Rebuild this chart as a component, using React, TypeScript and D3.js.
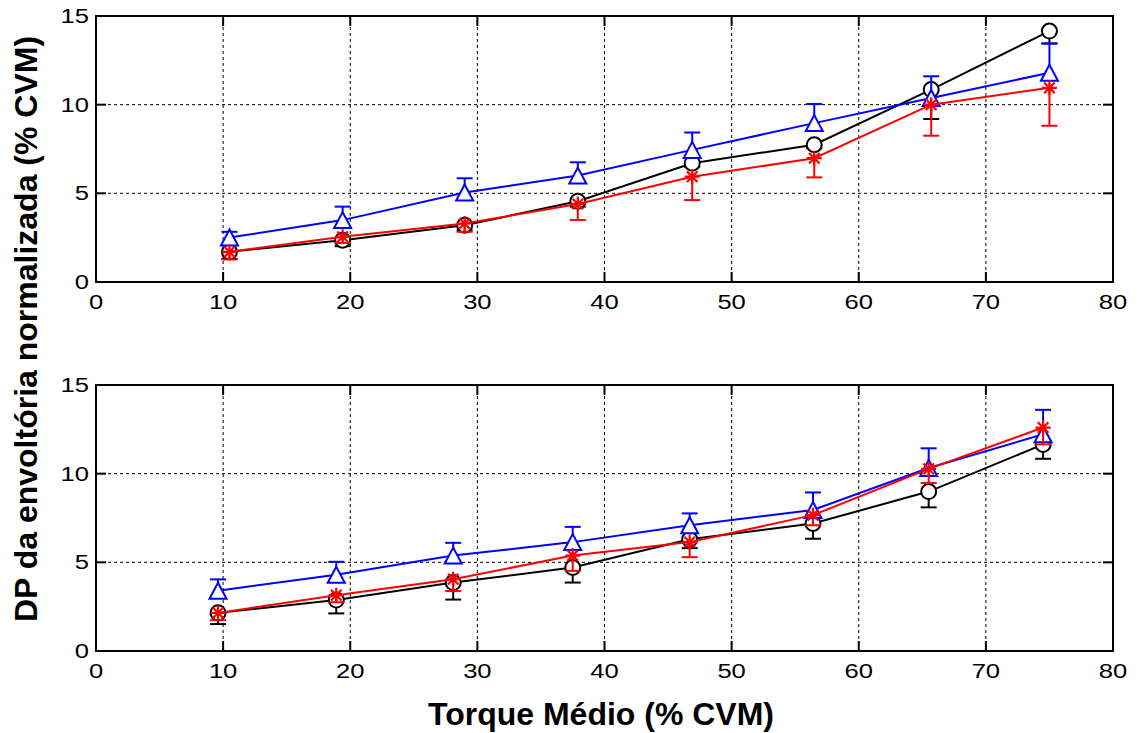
import React from "react";
import * as d3 from "d3";

// Axis ticks
const xTicks = [0, 10, 20, 30, 40, 50, 60, 70, 80];
const yTicks = [0, 5, 10, 15];
const xGrid = [10, 20, 30, 40, 50, 60, 70];
const yGrid = [5, 10];

// Upper panel
const topX = [10.5, 19.4, 29.0, 37.9, 46.9, 56.5, 65.7, 75.0];
const topBlack = [1.7, 2.36, 3.2, 4.55, 6.7, 7.74, 10.85, 14.15];
const topBlackErr = [0.4, 0.34, 0.3, 0.3, 0.2, 0.2, 1.66, 0.7];
const topBlue = [2.51, 3.49, 5.05, 6.0, 7.45, 8.96, 10.38, 11.8];
const topBlueErr = [0.32, 0.76, 0.8, 0.75, 0.98, 1.08, 1.22, 1.65];
const topRed = [1.7, 2.55, 3.3, 4.4, 5.94, 6.98, 10.0, 10.95];
const topRedErr = [0.43, 0.35, 0.47, 0.9, 1.32, 1.08, 1.75, 2.14];

// Lower panel
const botX = [9.6, 18.9, 28.1, 37.5, 46.7, 56.4, 65.5, 74.5];
const botBlack = [2.15, 2.87, 3.86, 4.71, 6.3, 7.19, 8.99, 11.65];
const botBlackErr = [0.63, 0.75, 0.96, 0.85, 0.5, 0.86, 0.89, 0.81];
const botBlue = [3.4, 4.3, 5.38, 6.14, 7.09, 7.95, 10.32, 12.22];
const botBlueErr = [0.64, 0.73, 0.72, 0.86, 0.67, 0.99, 1.11, 1.38];
const botRed = [2.15, 3.15, 4.05, 5.38, 6.14, 7.66, 10.27, 12.6];
const botRedErr = [0.41, 0.4, 0.67, 0.86, 0.85, 0.57, 0.8, 0.95];

type Series = {
  y: number[];
  err: number[];
  dir: 1 | -1; // 1 = bar drawn upward, -1 = downward
  color: string;
  marker: "circle" | "triangle" | "star";
};

const FONT = "'Liberation Sans', Arial, Helvetica, sans-serif";
const LEFT = 96;
const RIGHT = 1113;
const PANEL_H = 266;

function Marker({ kind, x, y, color }: { kind: string; x: number; y: number; color: string }) {
  if (kind === "circle") {
    return <circle cx={x} cy={y} r={7.5} fill="white" stroke={color} strokeWidth={2} />;
  }
  if (kind === "triangle") {
    const h = 8;
    return (
      <path
        d={`M${x},${y - h}L${x + 8.5},${y + h}L${x - 8.5},${y + h}Z`}
        fill="white"
        stroke={color}
        strokeWidth={2}
        strokeLinejoin="miter"
      />
    );
  }
  const r = 7.5;
  const d = r * Math.SQRT1_2;
  return (
    <path
      d={`M${x - r},${y}H${x + r}M${x},${y - r}V${y + r}M${x - d},${y - d}L${x + d},${y + d}M${x - d},${y + d}L${x + d},${y - d}`}
      stroke={color}
      strokeWidth={2.2}
      fill="none"
    />
  );
}

function Panel({ top, xs, series }: { top: number; xs: number[]; series: Series[] }) {
  const x = d3.scaleLinear().domain([0, 80]).range([LEFT, RIGHT]);
  const y = d3.scaleLinear().domain([0, 15]).range([top + PANEL_H, top]);
  const line = d3
    .line<number>()
    .x((_, i) => x(xs[i]))
    .y((v) => y(v));
  const tickLen = 10;
  const cap = 8;

  return (
    <g>
      {/* grid */}
      {xGrid.map((t) => (
        <line key={"gx" + t} x1={x(t)} x2={x(t)} y1={y(0)} y2={y(15)} stroke="#000" strokeWidth={1} strokeDasharray="3,3" />
      ))}
      {yGrid.map((t) => (
        <line key={"gy" + t} x1={x(0)} x2={x(80)} y1={y(t)} y2={y(t)} stroke="#000" strokeWidth={1} strokeDasharray="3,3" />
      ))}

      {/* series */}
      {series.map((s, si) => (
        <g key={si}>
          {s.y.map((v, i) => {
            const px = x(xs[i]);
            const end = y(v + s.dir * s.err[i]);
            return (
              <g key={i} stroke={s.color} strokeWidth={2}>
                <line x1={px} x2={px} y1={y(v)} y2={end} />
                <line x1={px - cap} x2={px + cap} y1={end} y2={end} />
              </g>
            );
          })}
          <path d={line(s.y) || ""} fill="none" stroke={s.color} strokeWidth={2} />
          {s.y.map((v, i) => (
            <Marker key={i} kind={s.marker} x={x(xs[i])} y={y(v)} color={s.color} />
          ))}
        </g>
      ))}

      {/* box and ticks */}
      <rect x={x(0)} y={y(15)} width={x(80) - x(0)} height={y(0) - y(15)} fill="none" stroke="#000" strokeWidth={2} />
      {xTicks.map((t) => (
        <g key={"tx" + t} stroke="#000" strokeWidth={2}>
          <line x1={x(t)} x2={x(t)} y1={y(0)} y2={y(0) - tickLen} />
          <line x1={x(t)} x2={x(t)} y1={y(15)} y2={y(15) + tickLen} />
        </g>
      ))}
      {yTicks.map((t) => (
        <g key={"ty" + t} stroke="#000" strokeWidth={2}>
          <line x1={x(0)} x2={x(0) + tickLen} y1={y(t)} y2={y(t)} />
          <line x1={x(80)} x2={x(80) - tickLen} y1={y(t)} y2={y(t)} />
        </g>
      ))}

      {/* tick labels */}
      {xTicks.map((t) => (
        <text
          key={"lx" + t}
          transform={`translate(${x(t)},${y(0) + 27}) scale(1.28,1)`}
          textAnchor="middle"
          fontFamily={FONT}
          fontSize={20}
          fill="#000"
        >
          {t}
        </text>
      ))}
      {yTicks.map((t) => (
        <text
          key={"ly" + t}
          transform={`translate(${x(0) - 7},${y(t) + 7}) scale(1.28,1)`}
          textAnchor="end"
          fontFamily={FONT}
          fontSize={20}
          fill="#000"
        >
          {t}
        </text>
      ))}
    </g>
  );
}

export default function App() {
  const topSeries: Series[] = [
    { y: topBlack, err: topBlackErr, dir: -1, color: "#000000", marker: "circle" },
    { y: topBlue, err: topBlueErr, dir: 1, color: "#0000ff", marker: "triangle" },
    { y: topRed, err: topRedErr, dir: -1, color: "#ff0000", marker: "star" },
  ];
  const botSeries: Series[] = [
    { y: botBlack, err: botBlackErr, dir: -1, color: "#000000", marker: "circle" },
    { y: botBlue, err: botBlueErr, dir: 1, color: "#0000ff", marker: "triangle" },
    { y: botRed, err: botRedErr, dir: -1, color: "#ff0000", marker: "star" },
  ];
  return (
    <svg
      width={1137}
      height={733}
      viewBox="0 0 1137 733"
      style={{ position: "absolute", left: 0, top: 0, background: "#fff" }}
    >
      <rect width={1137} height={733} fill="#fff" />
      <Panel top={16} xs={topX} series={topSeries} />
      <Panel top={385} xs={botX} series={botSeries} />
      <text
        transform="translate(37,329) rotate(-90)"
        textAnchor="middle"
        fontFamily={FONT}
        fontWeight="bold"
        fontSize={32}
        fill="#000"
      >
        DP da envoltória normalizada (% CVM)
      </text>
      <text x={601} y={725} textAnchor="middle" fontFamily={FONT} fontWeight="bold" fontSize={32} fill="#000">
        Torque Médio (% CVM)
      </text>
    </svg>
  );
}
